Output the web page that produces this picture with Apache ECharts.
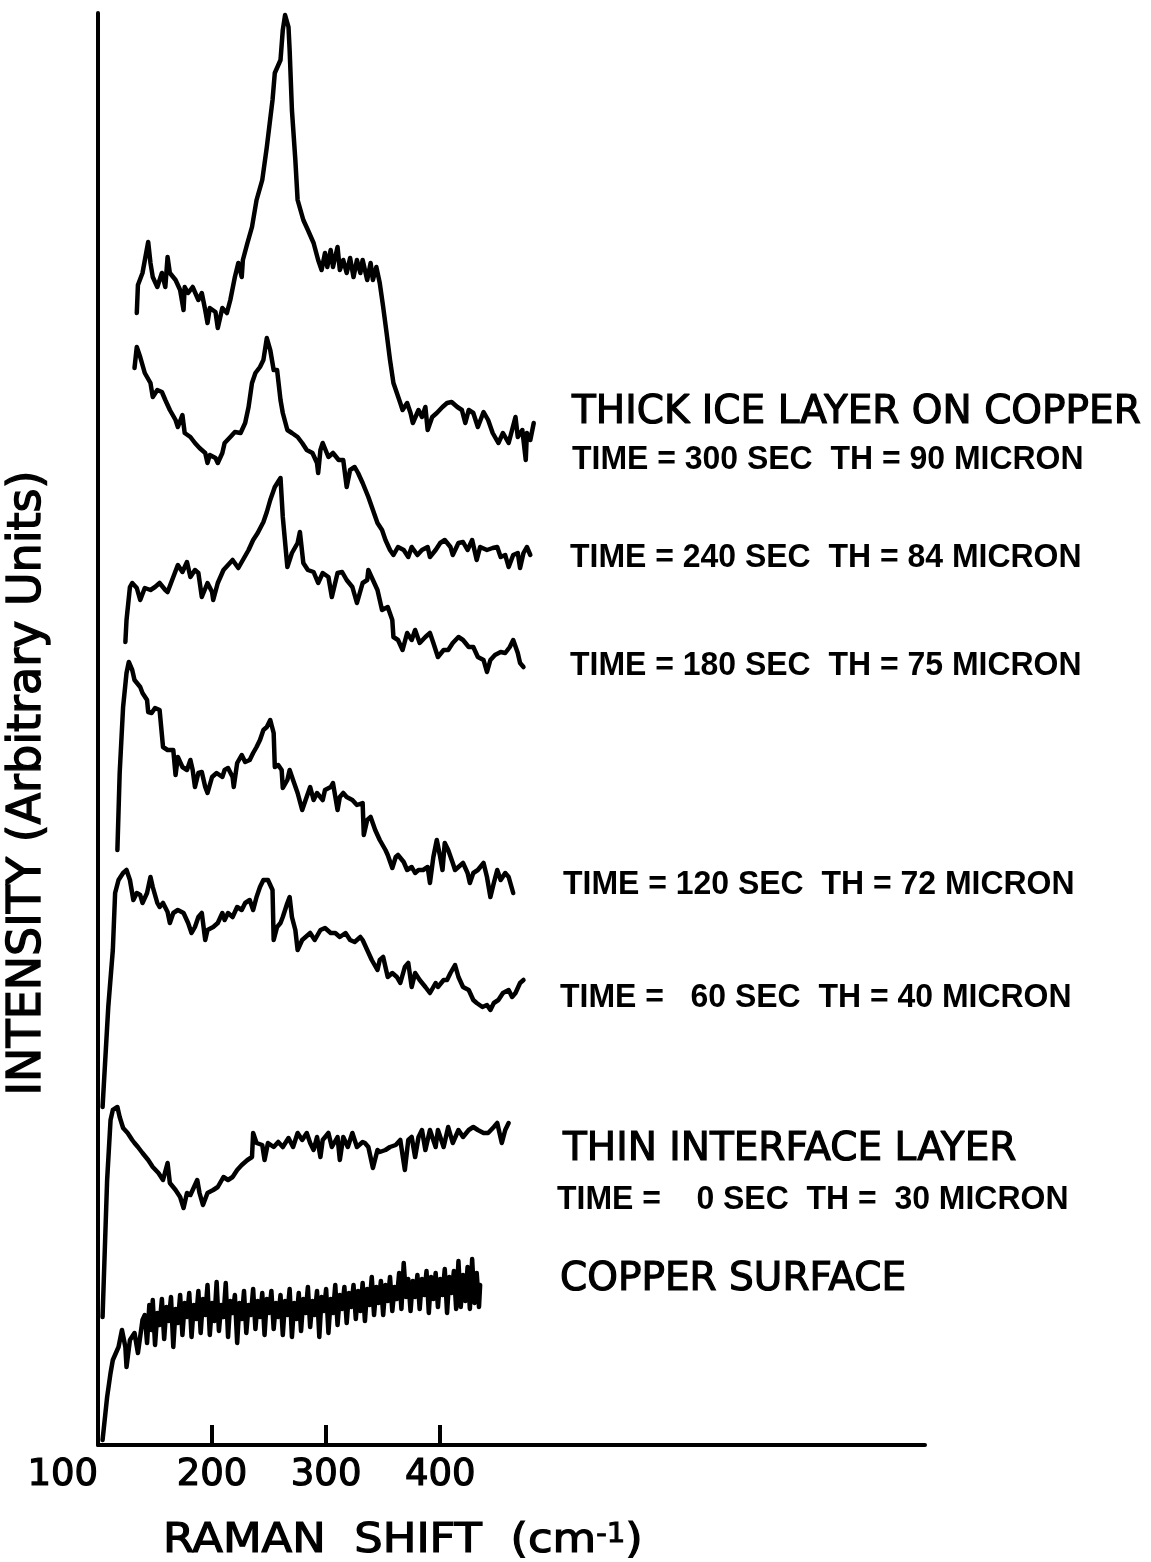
<!DOCTYPE html>
<html>
<head>
<meta charset="utf-8">
<script src="https://cdn.jsdelivr.net/npm/echarts@6/dist/echarts.min.js"></script>
<style>
  html, body { margin: 0; padding: 0; background: #fff; }
  #chart { width: 1151px; height: 1562px; }
</style>
</head>
<body>
<div id="chart"></div>
<script>
// Raman spectra of ice grown on copper, stacked with vertical offsets.
// Each trace: [Raman shift (cm-1), intensity (arbitrary units incl. offset)]

const tickValues = [100, 200, 300, 400];

const time300 = [[134,113.2],[135,116.0],[139,117.2],[144,120.3],[146,118.2],[148,116.8],[152,115.8],[156,117.2],[159,115.8],[161,118.8],[163,117.2],[168,116.5],[172,115.5],[175,113.5],[176,115.8],[179,115.2],[183,115.8],[188,114.5],[191,115.2],[194,113.5],[196,112.2],[198,113.7],[203,113.3],[205,111.7],[209,113.7],[213,113.2],[216,114.5],[220,116.8],[223,118.2],[226,116.8],[227,118.5],[231,120.2],[235,121.8],[239,124.5],[244,126.5],[248,129.8],[253,134.5],[255,137.2],[260,138.5],[262,141.5],[264,143.0],[267,141.8],[268,139.5],[270,133.5],[273,128.5],[275,124.5],[280,122.5],[284,121.5],[289,120.2],[293,118.5],[296,117.5],[299,119.2],[301,117.8],[304,119.5],[306,117.8],[310,119.8],[312,117.5],[315,118.5],[318,117.2],[321,118.7],[324,116.8],[327,118.5],[330,117.2],[332,118.5],[336,116.5],[339,118.2],[341,116.5],[344,117.8],[347,116.2],[350,113.8],[353,111.2],[356,108.5],[359,106.2],[362,105.2],[365,104.2],[367,103.5],[371,104.2],[374,103.2],[376,102.2],[381,103.5],[384,102.8],[387,103.8],[389,101.5],[393,102.8],[397,103.2],[402,103.8],[406,104.2],[410,104.3],[415,103.8],[419,103.5],[422,102.2],[425,103.5],[429,103.2],[433,101.8],[438,103.3],[442,102.5],[446,101.2],[451,100.2],[455,101.2],[460,100.2],[463,101.5],[466,102.8],[468,100.8],[472,101.5],[475,98.5],[476,101.2],[479,100.5],[482,102.2]];

const time240 = [[132,107.7],[134,109.8],[137,108.8],[141,107.2],[146,106.2],[148,104.8],[152,105.5],[156,105.3],[159,104.5],[163,103.5],[168,102.5],[170,101.8],[174,103.0],[176,101.2],[181,100.8],[185,100.2],[189,99.7],[194,99.2],[196,98.2],[198,99.0],[203,98.7],[205,98.2],[209,99.2],[211,100.2],[216,100.8],[220,101.3],[225,101.2],[229,102.2],[232,103.8],[235,106.2],[238,107.2],[242,107.8],[245,108.5],[248,110.7],[251,109.5],[254,107.5],[257,107.5],[260,104.5],[262,103.2],[266,101.5],[270,101.2],[275,100.8],[279,100.2],[283,99.5],[288,99.2],[292,98.2],[293,97.2],[295,99.5],[297,100.2],[302,98.8],[306,99.2],[311,98.5],[315,98.5],[318,95.8],[321,97.5],[325,97.8],[328,97.2],[332,96.2],[337,94.8],[341,93.5],[345,92.2],[349,91.5],[352,90.5],[356,89.5],[359,89.0],[363,89.8],[368,89.5],[372,88.8],[375,89.8],[380,89.0],[384,89.5],[389,89.8],[391,88.8],[396,89.5],[400,90.2],[404,90.5],[409,89.8],[411,89.0],[416,90.2],[420,90.3],[424,89.5],[428,90.5],[432,88.5],[435,89.8],[441,89.5],[446,89.7],[450,89.8],[453,88.8],[457,89.0],[460,87.8],[464,89.0],[468,89.2],[470,87.7],[473,89.2],[476,89.8],[479,89.0]];

const time180 = [[124,80.3],[125,82.5],[128,85.8],[130,86.2],[134,85.7],[137,84.5],[141,85.7],[146,85.5],[150,85.8],[154,86.2],[159,85.5],[161,85.3],[165,86.5],[170,88.0],[174,87.3],[178,88.3],[181,86.8],[185,87.5],[188,87.2],[191,84.8],[196,86.2],[200,85.3],[201,84.5],[205,86.2],[210,87.5],[214,88.0],[218,88.5],[223,87.7],[227,88.5],[232,89.5],[236,90.5],[240,91.2],[245,92.3],[248,93.3],[251,94.5],[255,95.8],[260,96.7],[262,92.8],[266,87.8],[270,89.2],[275,90.2],[277,91.3],[280,88.2],[284,87.5],[289,87.3],[293,86.2],[297,87.2],[302,86.8],[305,84.8],[310,87.2],[314,87.3],[318,86.5],[323,85.8],[327,84.2],[332,86.2],[336,86.5],[337,87.5],[341,86.5],[345,85.5],[349,83.5],[354,83.8],[358,82.5],[359,80.8],[363,80.5],[367,79.5],[371,81.2],[375,80.5],[378,81.5],[382,80.2],[387,80.8],[391,81.2],[394,80.2],[398,78.8],[403,79.5],[407,79.5],[411,80.2],[416,80.8],[420,80.5],[425,79.8],[429,79.8],[433,78.8],[438,78.5],[441,77.3],[444,78.5],[448,79.0],[453,79.3],[457,79.2],[461,79.8],[464,80.5],[468,79.2],[470,78.2],[473,77.8]];

const time120 = [[117,59.5],[119,67.2],[122,73.8],[125,77.2],[127,78.3],[130,77.5],[132,76.5],[137,75.8],[139,75.2],[143,74.5],[144,73.3],[147,73.2],[150,73.7],[154,73.5],[157,69.8],[161,69.5],[166,69.5],[168,67.0],[170,68.8],[174,67.8],[178,67.5],[181,68.5],[183,67.5],[185,65.8],[188,67.2],[191,67.3],[194,65.8],[196,65.2],[200,66.8],[204,67.2],[209,66.8],[211,67.5],[214,67.7],[218,66.8],[219,65.8],[222,68.2],[226,69.0],[229,68.3],[233,68.5],[236,69.2],[239,69.8],[242,70.5],[245,71.5],[248,71.8],[251,72.5],[254,71.2],[255,67.8],[258,68.0],[261,67.5],[262,65.7],[266,66.5],[268,67.5],[271,66.5],[275,65.2],[279,63.5],[282,64.5],[286,65.8],[289,64.5],[292,65.2],[297,64.5],[299,65.5],[304,65.8],[306,66.2],[310,63.5],[312,64.8],[315,65.2],[318,64.8],[323,64.5],[327,64.0],[332,64.2],[333,61.0],[336,62.5],[339,62.8],[343,61.5],[347,60.5],[352,59.5],[354,59.0],[358,57.7],[361,58.8],[363,59.0],[368,58.3],[371,57.5],[375,57.8],[378,57.2],[381,57.5],[385,57.5],[389,57.8],[391,56.2],[394,58.8],[397,60.5],[400,58.8],[402,57.5],[404,60.2],[407,59.5],[411,58.2],[413,57.5],[416,57.8],[420,58.2],[424,57.2],[426,56.2],[429,57.2],[433,57.5],[438,58.2],[441,56.8],[444,54.8],[447,56.2],[450,57.5],[453,56.5],[457,57.2],[460,56.8],[464,55.2]];

const time60 = [[104,33.8],[109,43.8],[113,49.5],[115,55.2],[118,56.5],[122,57.2],[125,57.5],[128,56.5],[131,54.5],[134,55.2],[137,55.0],[139,54.2],[143,55.2],[146,56.8],[148,55.8],[152,54.2],[154,53.8],[157,54.2],[161,53.3],[163,52.2],[166,53.2],[170,53.5],[175,53.2],[179,52.2],[182,51.2],[185,51.8],[188,52.8],[191,53.2],[194,50.5],[196,51.5],[201,51.8],[205,52.2],[209,53.2],[211,52.5],[214,53.2],[218,52.8],[222,53.8],[226,53.5],[229,54.2],[233,54.5],[236,53.5],[239,54.8],[242,55.8],[245,56.5],[249,56.5],[253,55.5],[254,50.5],[257,51.8],[260,52.2],[262,52.8],[266,54.2],[268,54.8],[270,52.8],[273,51.5],[275,49.5],[279,50.5],[282,50.8],[286,51.2],[290,50.5],[295,51.5],[299,51.7],[304,51.2],[308,51.2],[312,50.8],[317,51.2],[321,50.5],[325,50.3],[330,50.8],[332,50.5],[336,49.5],[340,48.5],[345,47.5],[347,48.5],[350,48.8],[354,46.8],[358,47.2],[362,46.8],[365,46.2],[369,47.8],[372,48.2],[375,45.8],[378,47.2],[382,46.5],[387,45.8],[391,45.2],[396,46.2],[398,45.8],[403,46.5],[406,46.5],[409,47.2],[413,48.0],[416,46.8],[420,45.8],[425,45.5],[429,44.5],[432,44.2],[437,43.8],[441,44.0],[444,43.5],[447,44.2],[451,44.5],[455,45.2],[460,45.5],[463,44.8],[466,45.2],[470,46.2],[473,46.5]];

const time0 = [[104,12.8],[108,26.5],[111,32.5],[113,33.5],[117,33.8],[119,32.8],[122,31.7],[126,31.2],[130,30.5],[132,30.2],[135,29.8],[139,29.2],[144,28.5],[148,27.8],[153,27.2],[157,26.5],[161,28.2],[163,26.2],[168,25.5],[172,24.8],[175,23.7],[178,25.2],[181,25.0],[183,25.5],[187,26.5],[189,25.2],[192,24.0],[196,25.2],[201,25.5],[205,25.8],[210,26.8],[214,26.5],[218,26.8],[222,27.5],[226,28.0],[231,28.5],[235,28.8],[236,31.2],[239,30.2],[244,30.0],[246,28.5],[249,30.2],[254,29.8],[258,30.3],[262,29.8],[267,30.7],[271,29.8],[275,31.2],[279,30.5],[283,31.2],[286,30.2],[289,29.5],[292,30.8],[295,28.8],[297,30.5],[302,31.2],[305,29.8],[310,30.8],[312,28.5],[315,30.8],[319,29.8],[323,31.2],[327,29.8],[332,30.3],[334,30.2],[337,29.8],[341,27.7],[345,29.5],[347,29.3],[352,29.5],[356,29.8],[361,30.0],[365,30.5],[369,27.5],[372,30.5],[375,30.8],[378,28.8],[381,30.8],[384,31.5],[387,29.5],[391,31.5],[396,29.8],[398,31.5],[403,29.8],[407,31.8],[411,30.2],[416,31.5],[420,30.8],[425,31.5],[429,31.8],[433,31.5],[438,31.2],[442,31.2],[447,31.8],[450,32.2],[454,30.2],[457,31.5],[460,32.2]];

const copperSurface = [[104,0.5],[108,4.8],[111,7.2],[113,8.5],[118,9.8],[121,11.5],[124,9.8],[125,7.8],[128,10.5],[132,11.2],[135,9.2],[139,12.5],
  [141,13.0],[143,10.2],[145,14.0],[147,11.5],[148,14.5],[150,10.0],[152,13.2],[154,12.0],[156,14.6],[158,10.6],[160,13.8],[162,12.4],[164,14.8],[166,9.8],[168,13.6],[170,12.2],[172,15.0],[174,11.0],[176,14.2],[178,12.8],[180,15.2],[182,10.8],[184,14.0],[186,12.6],[188,15.4],[190,11.2],[192,14.6],[194,13.0],[196,16.0],[198,11.0],[200,14.2],[202,12.4],[204,16.3],[206,11.4],[208,14.0],[210,12.8],[212,16.2],[214,10.8],[216,14.4],[218,13.2],[220,15.0],[222,10.2],[224,14.2],[226,12.6],[228,15.4],[230,11.2],[232,14.0],[234,13.0],[236,15.6],[238,11.6],[240,14.4],[242,12.8],[244,15.2],[246,11.0],[248,14.6],[250,13.2],[252,15.4],[254,11.6],[256,14.2],[258,12.8],[260,15.0],[262,11.0],[264,14.4],[266,13.0],[268,15.6],[270,10.8],[272,14.2],[274,12.6],[276,15.2],[278,11.4],[280,14.6],[282,13.2],[284,15.8],[286,11.8],[288,14.4],[290,13.0],[292,15.4],[294,10.8],[296,14.8],[298,13.4],[300,15.6],[302,11.2],[304,14.6],[306,13.2],[308,16.0],[310,12.0],[312,15.0],[314,13.6],[316,15.8],[318,12.2],[320,15.2],[322,13.8],[324,16.0],[326,12.6],[328,15.4],[330,13.4],[332,16.2],[334,12.4],[336,15.6],[338,14.0],[340,16.8],[342,13.0],[344,15.8],[346,14.2],[348,16.4],[350,13.0],[352,16.0],[354,14.4],[356,16.8],[358,13.4],[360,15.8],[362,14.6],[364,17.2],[366,13.6],[368,18.2],[370,14.8],[372,16.6],[374,13.4],[376,16.4],[378,14.8],[380,17.0],[382,13.6],[384,16.6],[386,15.0],[388,17.4],[390,13.2],[392,16.8],[394,14.6],[396,17.2],[398,13.8],[400,16.6],[402,15.0],[404,17.6],[406,13.2],[408,16.8],[410,15.2],[412,17.4],[414,13.6],[416,18.4],[418,13.8],[420,17.0],[422,14.4],[424,17.8],[426,13.6],[428,18.6],[430,14.2],[432,17.2],[434,13.8],[435,16.0]];

const traces = [time300, time240, time180, time120, time60, time0, copperSurface];

const blockLabels = [
  'THICK ICE LAYER ON COPPER',
  'THIN INTERFACE LAYER',
  'COPPER SURFACE'
];
const runLabels = [
  'TIME = 300 SEC  TH = 90 MICRON',
  'TIME = 240 SEC  TH = 84 MICRON',
  'TIME = 180 SEC  TH = 75 MICRON',
  'TIME = 120 SEC  TH = 72 MICRON',
  'TIME =   60 SEC  TH = 40 MICRON',
  'TIME =    0 SEC  TH =  30 MICRON'
];

const letterFont = '"DejaVu Sans", sans-serif';
const condFont = '"Liberation Sans", Arial, sans-serif';

// layout of the annotation text (left edge, vertical centre)
const blockPos = [[572, 413], [563, 1150], [560, 1280]];
const runPos = [[572, 460], [570, 558], [570, 666], [563, 885], [560, 998], [557, 1200]];

const graphics = [];
blockLabels.forEach((t, i) => {
  graphics.push({
    type: 'text', x: blockPos[i][0], y: blockPos[i][1],
    style: { text: t, x: 0, y: 0, fill: '#000', stroke: '#000', lineWidth: 1.2,
             font: '39px ' + letterFont, textVerticalAlign: 'middle' }
  });
});
runLabels.forEach((t, i) => {
  graphics.push({
    type: 'text', x: runPos[i][0], y: runPos[i][1], scaleX: 0.94,
    style: { text: t, x: 0, y: 0, fill: '#000', font: 'bold 34px ' + condFont, textVerticalAlign: 'middle' }
  });
});
// axis titles
graphics.push({
  type: 'text', x: 28, y: 783, rotation: Math.PI / 2,
  style: { text: 'INTENSITY (Arbitrary Units)', x: 0, y: 0, fill: '#000', stroke: '#000', lineWidth: 1.4,
           font: '46px ' + letterFont, textAlign: 'center', textVerticalAlign: 'middle' }
});
graphics.push({
  type: 'text', x: 163, y: 1542, scaleX: 1.12,
  style: {
    text: '{a|RAMAN  SHIFT  (cm}{s|-1}{a|)}', x: 0, y: 0, textVerticalAlign: 'middle',
    rich: {
      a: { fill: '#000', stroke: '#000', lineWidth: 1.2, font: '40px ' + letterFont },
      s: { fill: '#000', stroke: '#000', lineWidth: 1, font: '26px ' + letterFont, verticalAlign: 'top', padding: [0, 0, 14, 0] }
    }
  }
});

const chart = echarts.init(document.getElementById('chart'), null, { renderer: 'canvas' });
chart.setOption({
  backgroundColor: '#fff',
  animation: false,
  grid: { left: 98, right: 226, top: 13, bottom: 117 },
  xAxis: {
    type: 'value', min: 100, max: 825,
    splitLine: { show: false },
    axisLine: { lineStyle: { color: '#000', width: 4 } },
    axisTick: { show: true, inside: true, length: 20, customValues: [200, 300, 400],
                lineStyle: { color: '#000', width: 4 } },
    axisLabel: { customValues: tickValues, color: '#000', fontSize: 37, fontFamily: letterFont,
                 textBorderColor: '#000', textBorderWidth: 1.2, margin: 12, alignMinLabel: 'right' }
  },
  yAxis: {
    type: 'value', min: 0, max: 143.2,
    splitLine: { show: false },
    axisLine: { show: true, lineStyle: { color: '#000', width: 4 } },
    axisTick: { show: false },
    axisLabel: { show: false }
  },
  graphic: graphics,
  series: traces.map(d => ({
    type: 'line', data: d, showSymbol: false, smooth: false,
    lineStyle: { color: '#000', width: 4.5, join: 'round', cap: 'round' }
  }))
});
</script>
</body>
</html>
